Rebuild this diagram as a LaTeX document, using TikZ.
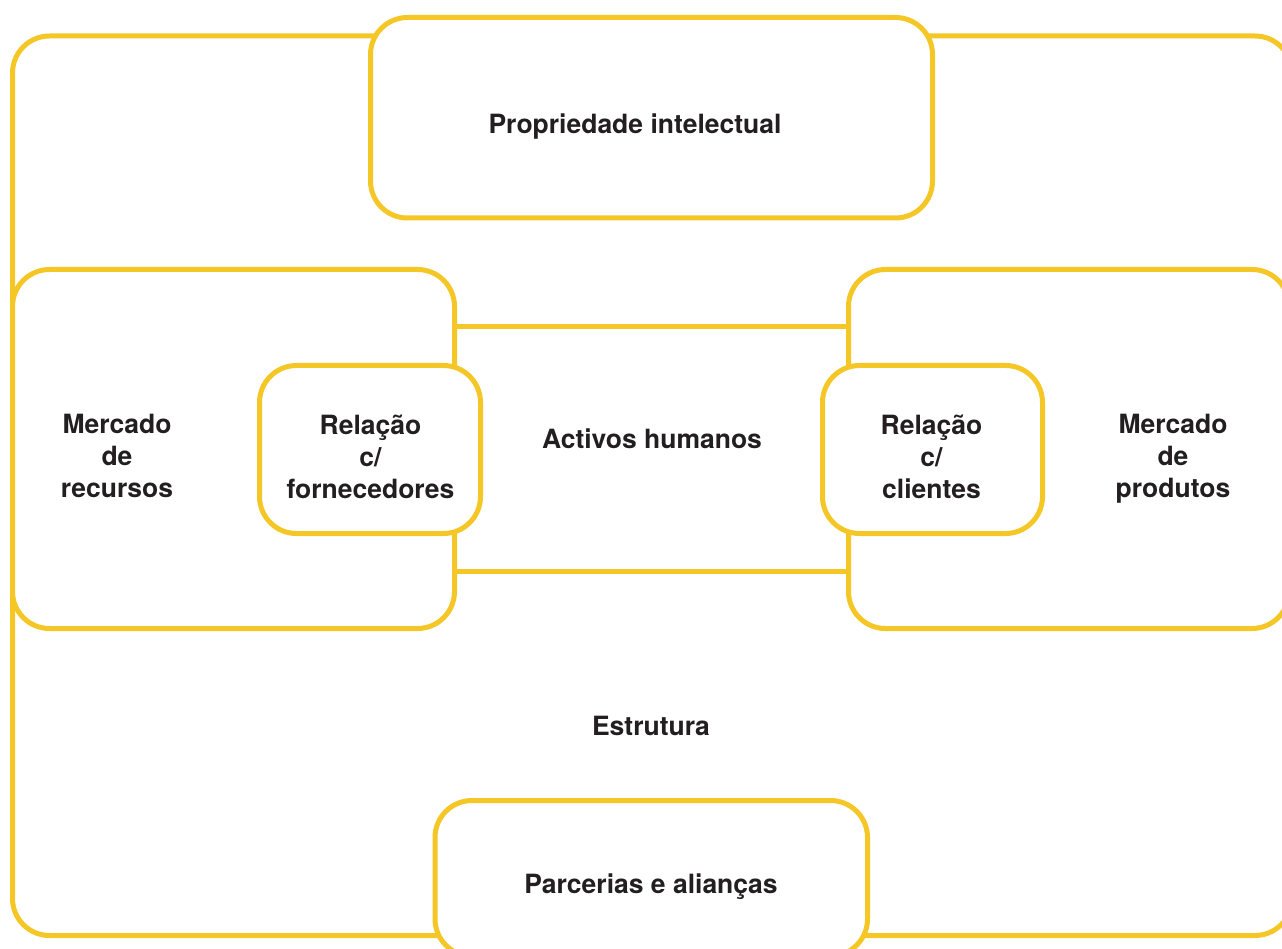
\documentclass[tikz,border=0pt]{standalone}
\usepackage{fontspec}
\setmainfont{TeX Gyre Heros}
\definecolor{frame}{RGB}{245,199,38}
\definecolor{ink}{RGB}{35,31,32}
\tikzset{
  panel/.style={draw=frame, line width=5pt, rounded corners=37pt, fill=white},
  band/.style={draw=frame, line width=5pt},
  label/.style={font=\bfseries\fontsize{26.5}{32}\selectfont, text=ink, align=center, inner sep=0pt},
}
\begin{document}
\begin{tikzpicture}[x=1pt, y=-1pt]
  \useasboundingbox (0,0) rectangle (1282,949);
  \clip (0,0) rectangle (1282,949);

  % outer frame: Estrutura
  \draw[panel] (12.5,36) rectangle (1292,935.5);

  % central band: Activos humanos
  \draw[band] (454.5,326.5) rectangle (848.5,571.5);

  % top panel
  \draw[panel] (370.5,17.5) rectangle (932.5,218);

  % side markets
  \draw[panel] (12.5,269.5) rectangle (454.5,628.5);
  \draw[panel] (848.5,269.5) rectangle (1289,628.5);

  % relationship panels
  \draw[panel] (259.5,365.5) rectangle (480.5,533.5);
  \draw[panel] (822.5,365.5) rectangle (1042.5,533.5);

  % bottom panel
  \draw[panel] (435,800.5) rectangle (867.5,956);

  % labels
  \node[label, anchor=base] (pi) at (635,133.3) {Propriedade intelectual};
  \node[label] (mr) at (117,455.7) {Mercado\\de\\recursos};
  \node[label] (rf) at (370.5,456.6) {Relação\\c/\\fornecedores};
  \node[label, anchor=base] (ah) at (652,448.3) {Activos humanos};
  \node[label] (rc) at (931.5,456.6) {Relação\\c/\\clientes};
  \node[label] (mp) at (1173,458.4) {Mercado\\de\\produtos};
  \node[label, anchor=base] (es) at (651,735) {Estrutura};
  \node[label, anchor=base] (pa) at (651,893) {Parcerias e alianças};
\end{tikzpicture}
\end{document}
